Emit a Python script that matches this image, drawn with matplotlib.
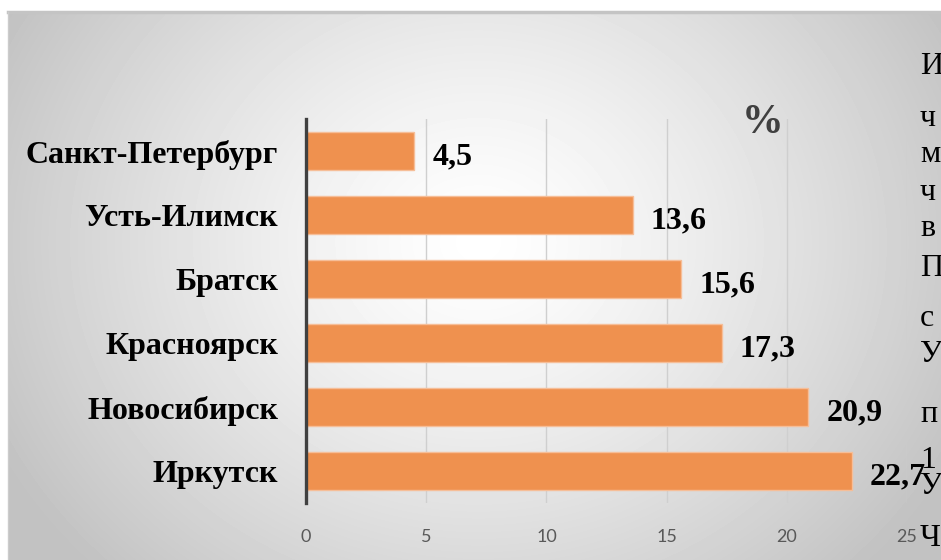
import numpy as np
import matplotlib.pyplot as plt

# Data (top to bottom)
cities = ['Санкт-Петербург', 'Усть-Илимск', 'Братск', 'Красноярск', 'Новосибирск', 'Иркутск']
values = [4.5, 13.6, 15.6, 17.3, 20.9, 22.7]
value_labels = ['4,5', '13,6', '15,6', '17,3', '20,9', '22,7']
x_ticks = [0, 5, 10, 15, 20, 25]

# Cut-off slide text on the right edge (letter, y in px)
side_letters = ['И', 'ч', 'м', 'ч', 'в', 'П', 'с', 'У', 'п', '1', 'У', 'Ч']
side_y = [66, 118, 155, 193, 228, 268, 318, 354, 415, 460, 487, 538]

W, H = 941, 560
fig = plt.figure(figsize=(W / 100, H / 100), dpi=100)
fig.patch.set_facecolor('white')

# Slide background: radial grey gradient
bg = fig.add_axes([8 / W, 0, 1 - 8 / W, 1 - 12 / H])
yy, xx = np.mgrid[0:548, 0:933]
r = np.hypot(xx - 470, (yy - 230) * 1.15)
shade = np.clip(1.0 - 0.23 * (r / 520) ** 1.3, 0.76, 1.0)
bg.imshow(shade, cmap='gray', vmin=0, vmax=1, aspect='auto', interpolation='bilinear')
bg.set_axis_off()
fig.add_artist(plt.Line2D([8 / W, 1], [1 - 12 / H, 1 - 12 / H], color='#c4c4c4', lw=2.5))
fig.add_artist(plt.Line2D([8 / W, 8 / W], [0, 1 - 12 / H], color='#cccccc', lw=1))

# Bar chart
ax = fig.add_axes([306 / W, 1 - 503 / H, 601 / W, 384 / H])
ax.patch.set_alpha(0)
y_pos = np.arange(len(cities))
ax.barh(y_pos, values, height=0.6, color='#EF914F', edgecolor='#F6BE98', linewidth=1, zorder=3)

for i, (v, lab) in enumerate(zip(values, value_labels)):
    ax.annotate(lab, (v, y_pos[i]), xytext=(13, -4), textcoords='offset points',
                ha='left', va='center', fontsize=23, fontweight='bold',
                family='Liberation Serif', color='black', zorder=5, annotation_clip=False)

ax.set_ylim(len(cities) - 0.5, -0.5)
ax.set_xlim(0, 25)
ax.set_xticks(x_ticks)
ax.set_yticks(y_pos)
ax.set_yticklabels(cities, fontsize=23, fontweight='bold', family='Liberation Serif')
ax.tick_params(axis='y', length=0, pad=20)
ax.tick_params(axis='x', length=0, pad=19, labelsize=13, labelcolor='#595959')
for t in ax.get_xticklabels():
    t.set_family('Lato')
ax.grid(axis='x', color='#cfcfcf', lw=1, zorder=1)
for s in ['top', 'right', 'bottom']:
    ax.spines[s].set_visible(False)
ax.spines['left'].set_color('#404040')
ax.spines['left'].set_linewidth(2.4)
ax.spines['left'].set_zorder(4)

ax.text(0.759, 0.99, '%', transform=ax.transAxes, ha='center', va='center',
        fontsize=30, fontweight='bold', family='Liberation Serif', color='#404040')

for ch, yv in zip(side_letters, side_y):
    fig.text(920 / W, 1 - yv / H, ch, ha='left', va='center', fontsize=23,
             family='Liberation Serif', color='black')

plt.savefig('out.png', dpi=100, facecolor='white')
